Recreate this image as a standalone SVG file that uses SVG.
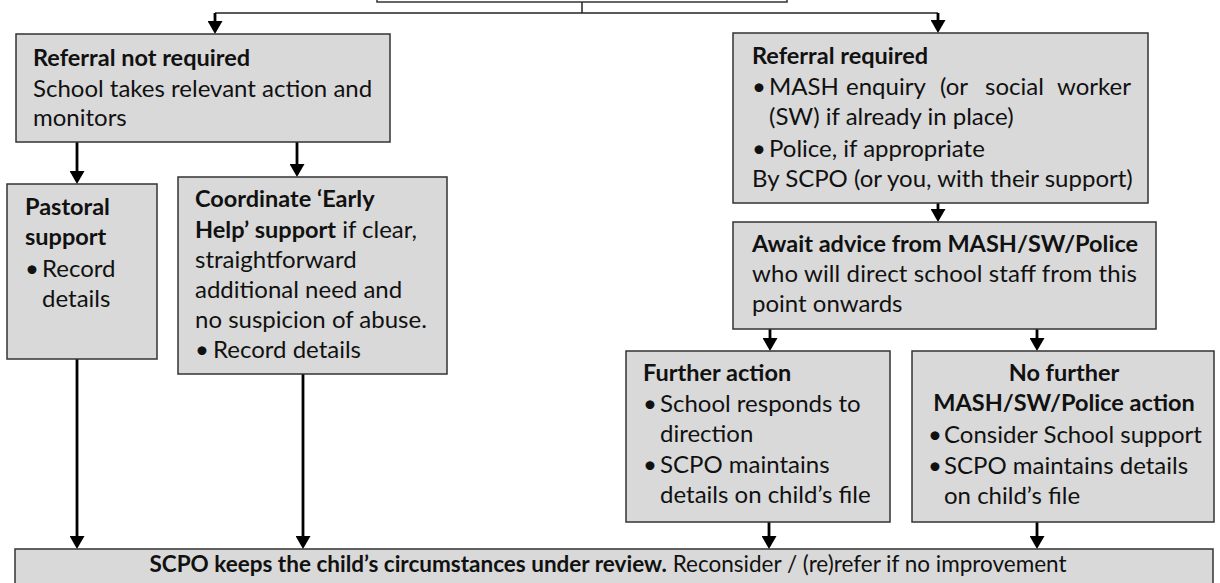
<svg xmlns="http://www.w3.org/2000/svg" width="1220" height="583" viewBox="0 0 1220 583">
<style>
.box{fill:#d9d9d9;stroke:#333;stroke-width:1.5}
.t{font-family:Lato,"Liberation Sans",sans-serif;font-size:24px;fill:#111}
.b{font-weight:bold;font-size:23.5px}
.c{text-anchor:middle}
.s{font-size:22.5px}
.arr{stroke:#000;stroke-width:2.8;fill:none;marker-end:url(#ah)}
.thin{stroke:#222;stroke-width:1.5;fill:none}
</style>
<defs>
<marker id="ah" viewBox="0 0 13 15" markerWidth="13" markerHeight="15" refX="5" refY="7.5" orient="auto" markerUnits="userSpaceOnUse">
<path d="M0,0 L13,7.5 L0,15 z" fill="#000"/>
</marker>
</defs>
<rect width="1220" height="583" fill="#fff"/>
<g id="connectors">
<path class="thin" d="M582,2 V13"/>
<path class="thin" d="M215,13 H938"/>
<line class="arr" x1="215" y1="13" x2="215" y2="26"/>
<line class="arr" x1="938" y1="13" x2="938" y2="25"/>
<line class="arr" x1="77" y1="142" x2="77" y2="176"/>
<line class="arr" x1="297" y1="142" x2="297" y2="169"/>
<line class="arr" x1="938" y1="203" x2="938" y2="214"/>
<line class="arr" x1="770" y1="329" x2="770" y2="343"/>
<line class="arr" x1="1037" y1="329" x2="1037" y2="343"/>
<line class="arr" x1="77" y1="359" x2="77" y2="541"/>
<line class="arr" x1="303" y1="374" x2="303" y2="541"/>
<line class="arr" x1="769" y1="522" x2="769" y2="541"/>
<line class="arr" x1="1037" y1="522" x2="1037" y2="541"/>
</g>
<g id="top">
<rect x="377" y="-20" width="410" height="22" fill="#fff" stroke="#333" stroke-width="1.5"/>
</g>
<g id="not-required">
<rect class="box" x="16" y="34" width="374" height="108"/>
<text class="t b" x="33" y="66">Referral not required</text>
<text class="t" x="33" y="97">School takes relevant action and</text>
<text class="t" x="33" y="126">monitors</text>
</g>
<g id="pastoral">
<rect class="box" x="7" y="184" width="150" height="175"/>
<text class="t b" x="25" y="215">Pastoral</text>
<text class="t b" x="25" y="245">support</text>
<text class="t" x="25" y="277">•</text>
<text class="t" x="42" y="277">Record</text>
<text class="t" x="42" y="307">details</text>
</g>
<g id="early-help">
<rect class="box" x="178" y="177" width="269" height="197"/>
<text class="t b" x="195" y="207">Coordinate ‘Early</text>
<text class="t" x="195" y="238"><tspan class="b">Help’ support</tspan> if clear,</text>
<text class="t" x="195" y="268">straightforward</text>
<text class="t" x="195" y="298">additional need and</text>
<text class="t" x="195" y="328">no suspicion of abuse.</text>
<text class="t" x="195" y="358">•</text>
<text class="t" x="213" y="358">Record details</text>
</g>
<g id="required">
<rect class="box" x="733" y="33" width="415" height="170"/>
<text class="t b" x="752" y="64">Referral required</text>
<text class="t" x="752" y="95">•</text>
<text class="t" y="95"><tspan x="769">MASH</tspan><tspan x="846">enquiry</tspan><tspan x="940">(or</tspan><tspan x="985">social</tspan><tspan x="1057">worker</tspan></text>
<text class="t" x="769" y="125">(SW) if already in place)</text>
<text class="t" x="752" y="157">•</text>
<text class="t" x="769" y="157">Police, if appropriate</text>
<text class="t" x="752" y="187">By SCPO (or you, with their support)</text>
</g>
<g id="await">
<rect class="box" x="733" y="222" width="423" height="107"/>
<text class="t b" x="752" y="252">Await advice from MASH/SW/Police</text>
<text class="t" x="752" y="282" textLength="385" lengthAdjust="spacing">who will direct school staff from this</text>
<text class="t" x="752" y="312">point onwards</text>
</g>
<g id="further">
<rect class="box" x="626" y="351" width="264" height="171"/>
<text class="t b" x="643" y="381">Further action</text>
<text class="t" x="643" y="412">•</text>
<text class="t" x="660" y="412">School responds to</text>
<text class="t" x="660" y="442">direction</text>
<text class="t" x="643" y="473">•</text>
<text class="t" x="660" y="473">SCPO maintains</text>
<text class="t" x="660" y="503">details on child’s file</text>
</g>
<g id="no-further">
<rect class="box" x="912" y="351" width="302" height="171"/>
<text class="t b c" x="1064" y="381">No further</text>
<text class="t b c" x="1064" y="411">MASH/SW/Police action</text>
<text class="t" x="928" y="443">•</text>
<text class="t" x="944" y="443">Consider School support</text>
<text class="t" x="928" y="474">•</text>
<text class="t" x="944" y="474">SCPO maintains details</text>
<text class="t" x="944" y="504">on child’s file</text>
</g>
<g id="review">
<rect class="box" x="15" y="549" width="1198" height="50"/>
<text class="t s c" x="608" y="572"><tspan class="b s">SCPO keeps the child’s circumstances under review.</tspan> Reconsider / (re)refer if no improvement</text>
</g>
</svg>
